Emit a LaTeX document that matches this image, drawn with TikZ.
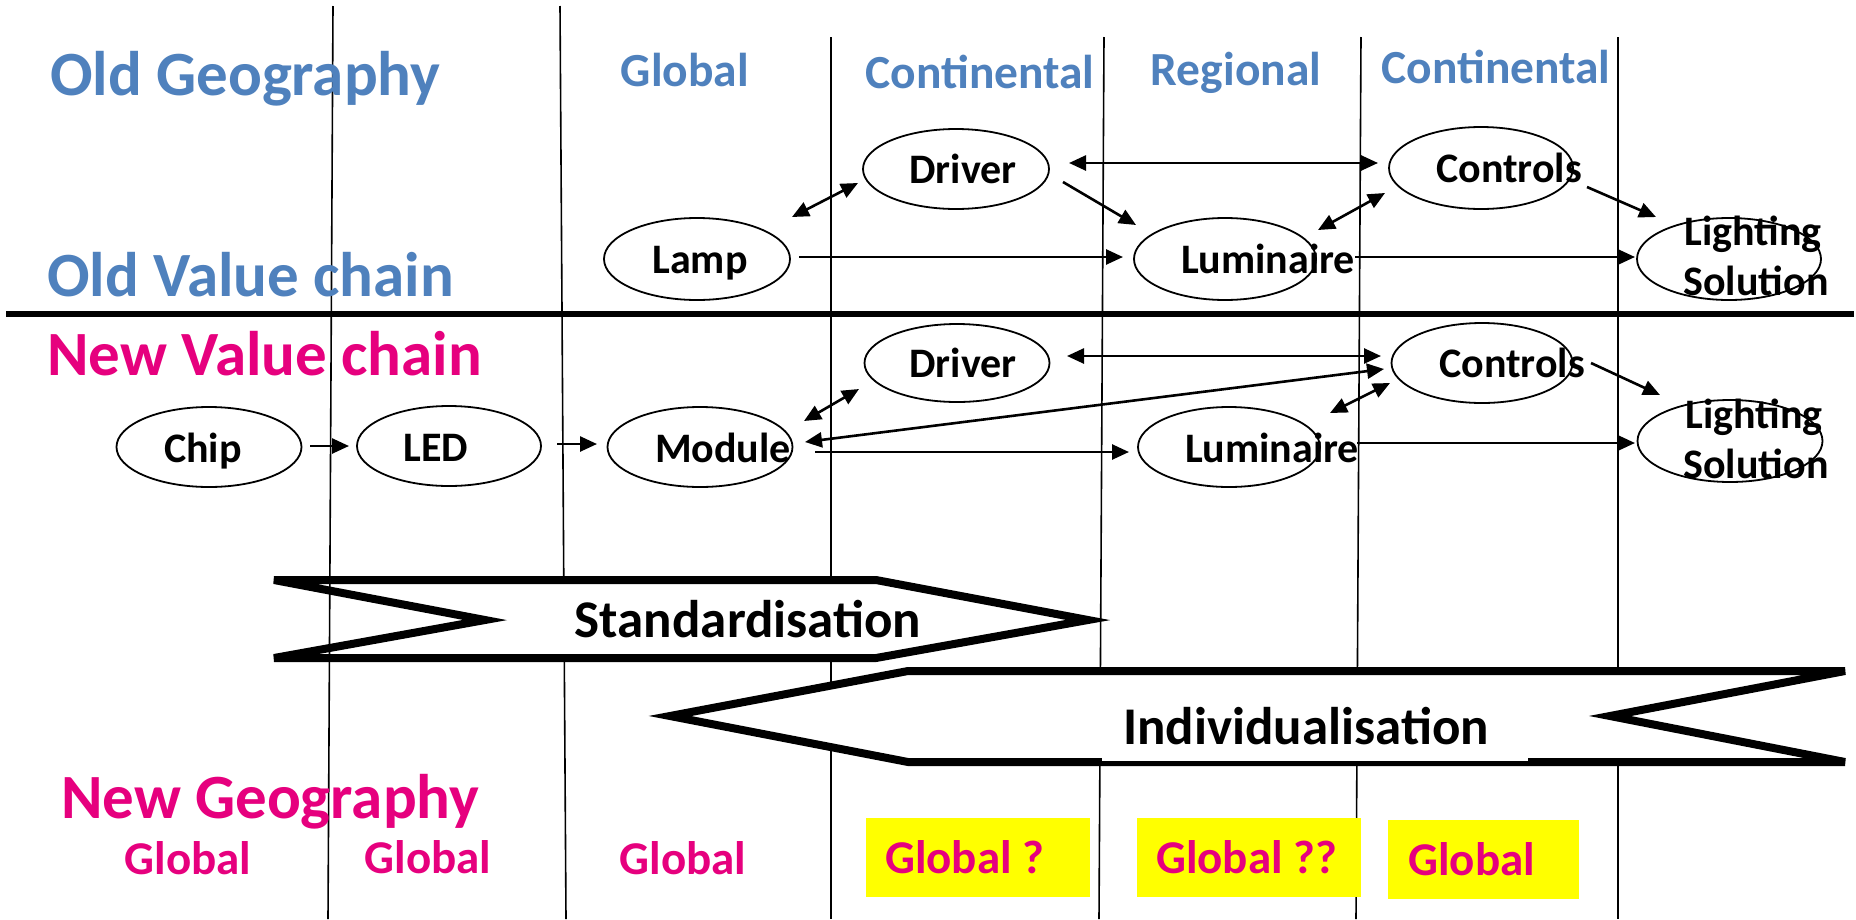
\documentclass[tikz,border=0pt]{standalone}
\usepackage{fontspec}
\setmainfont{Carlito}
\usetikzlibrary{arrows.meta,shapes.geometric,calc}
\definecolor{oblue}{RGB}{79,129,189}
\definecolor{nmag}{RGB}{230,0,126}
\definecolor{hyel}{RGB}{255,255,0}
\tikzset{
  ttl/.style={font=\fontsize{63}{63}\selectfont\bfseries, anchor=base west, inner sep=0},
  hdr/.style={font=\fontsize{47.5}{48}\selectfont\bfseries, text=oblue, anchor=base, inner sep=0},
  geo/.style={font=\fontsize{47}{48}\selectfont\bfseries, text=nmag, anchor=base, inner sep=0},
  lbl/.style={font=\fontsize{42}{42}\selectfont\bfseries, anchor=base, inner sep=0},
  chv/.style={font=\fontsize{53}{53}\selectfont\bfseries, anchor=base, inner sep=0},
  ell/.style={draw, ellipse, line width=1.8pt, inner sep=0, minimum width=185pt, minimum height=81pt},
  vline/.style={line width=1.6pt},
  chevron/.style={line width=8pt, line join=miter, fill=white},
  arr/.style={-{Triangle[length=17pt,width=15pt]}, line width=2.6pt},
  dbl/.style={{Triangle[length=17pt,width=15pt]}-{Triangle[length=17pt,width=15pt]}, line width=2.6pt},
}
\begin{document}
\begin{tikzpicture}[x=1pt,y=-1pt]
\useasboundingbox[fill=white] (0,0) rectangle (1856,919);

% vertical column lines
\draw[vline] (560,6) -- (566,919);
\draw[vline] (831,37) -- (831,919);
\draw[vline] (1104,37) -- (1099,919);
\draw[vline] (1361,37) -- (1356,919);
\draw[vline] (1618,37) -- (1618,919);

% Standardisation chevron
\draw[chevron] (274,580) -- (876,580) -- (1088,620) -- (876,658) -- (274,658) -- (485,620) -- cycle;
\draw[vline] (333,6) -- (328,919);

% Individualisation chevron
\fill[white] (908,671) rectangle (1845,762);
\draw[chevron] (908,671) -- (1845,671) -- (1610,716) -- (1845,762) -- (908,762) -- (670,716) -- cycle;
\fill[white] (1102,700) rectangle (1528,761);

\node[chv] (std) at (748,637) {Standardisation};
\node[chv] (ind) at (1306,744) {Individualisation};

% thick separator
\draw[line width=6pt] (6,314) -- (1854,314);

% titles
\node[ttl, text=oblue] (t1) at (50,95) {Old Geography};
\node[ttl, text=oblue] (t2) at (47,296) {Old Value chain};
\node[ttl, text=nmag] (t3) at (47,375) {New Value chain};
\node[ttl, text=nmag] (t4) at (61,818) {New Geography};

% old geography headers
\node[hdr] (h1) at (685,86) {Global};
\node[hdr] (h2) at (980,88) {Continental};
\node[hdr] (h3) at (1236,85) {Regional};
\node[hdr] (h4) at (1496,83) {Continental};

% old value chain
\node[ell, minimum width=186pt, minimum height=82pt] (lamp) at (697,259) {};
\node[ell, minimum width=186pt, minimum height=80pt] (drv1) at (956,169) {};
\node[ell, minimum width=182pt, minimum height=82pt] (lum1) at (1225,259) {};
\node[ell, minimum width=184pt, minimum height=82pt] (ctl1) at (1481,168) {};
\node[ell, minimum width=184pt, minimum height=82pt] (ls1) at (1729,259) {};
\node[lbl] (lampt) at (700,273) {Lamp};
\node[lbl] (drv1t) at (963,183) {Driver};
\node[lbl] (lum1t) at (1268,273) {Luminaire};
\node[lbl] (ctl1t) at (1509,182) {Controls};
\node[lbl] (ls1a) at (1753,245) {Lighting};
\node[lbl] (ls1b) at (1756,295) {Solution};

\draw[dbl] ($(lamp.center)+(95,-42)$) -- ($(drv1.center)+(-98,14)$);
\draw[dbl] ($(drv1.center)+(113,-6)$) -- ($(ctl1.center)+(-103,-5)$);
\draw[arr] ($(drv1.center)+(107,13)$) -- ($(lum1.center)+(-89,-34)$);
\draw[arr] ($(lamp.center)+(102,-2)$) -- ($(lum1.center)+(-102,-2)$);
\draw[dbl] ($(lum1.center)+(93,-29)$) -- ($(ctl1.center)+(-96,25)$);
\draw[arr] ($(ctl1.center)+(106,19)$) -- ($(ls1.center)+(-73,-42)$);
\draw[arr] ($(lum1.center)+(130,-2)$) -- ($(ls1.center)+(-94,-2)$);

% new value chain
\node[ell, minimum width=185pt, minimum height=80pt] (chip) at (209,447) {};
\node[ell, minimum width=184pt, minimum height=80pt] (led) at (449,446) {};
\node[ell, minimum width=185pt, minimum height=80pt] (mod) at (700,447) {};
\node[ell, minimum width=185pt, minimum height=78pt] (drv2) at (957,363) {};
\node[ell, minimum width=181pt, minimum height=80pt] (ctl2) at (1482,363) {};
\node[ell, minimum width=182pt, minimum height=80pt] (lum2) at (1229,447) {};
\node[ell, minimum width=185pt, minimum height=82pt] (ls2) at (1730,441) {};
\node[lbl] (chipt) at (203,462) {Chip};
\node[lbl] (ledt) at (436,461) {LED};
\node[lbl] (modt) at (723,462) {Module};
\node[lbl] (drv2t) at (963,377) {Driver};
\node[lbl] (ctl2t) at (1512,377) {Controls};
\node[lbl] (lum2t) at (1272,462) {Luminaire};
\node[lbl] (ls2a) at (1754,428) {Lighting};
\node[lbl] (ls2b) at (1756,478) {Solution};

\draw[arr] ($(chip.center)+(101,-1)$) -- ($(led.center)+(-100,0)$);
\draw[arr] ($(led.center)+(108,-2)$) -- ($(mod.center)+(-103,-3)$);
\draw[dbl] ($(mod.center)+(104,-26)$) -- ($(drv2.center)+(-98,26)$);
\draw[dbl] ($(mod.center)+(105,-5)$) -- ($(ctl2.center)+(-98,6)$);
\draw[arr] ($(mod.center)+(115,5)$) -- ($(lum2.center)+(-100,5)$);
\draw[dbl] ($(drv2.center)+(110,-7)$) -- ($(ctl2.center)+(-101,-7)$);
\draw[dbl] ($(lum2.center)+(101,-34)$) -- ($(ctl2.center)+(-92,20)$);
\draw[arr] ($(ctl2.center)+(109,0)$) -- ($(ls2.center)+(-70,-46)$);
\draw[arr] ($(lum2.center)+(128,-4)$) -- ($(ls2.center)+(-95,2)$);

% new geography
\node[geo] (g1) at (188,874) {Global};
\node[geo] (g2) at (428,873) {Global};
\node[geo] (g3) at (683,874) {Global};
\fill[hyel] (866,818) rectangle (1090,897);
\fill[hyel] (1137,818) rectangle (1361,897);
\fill[hyel] (1388,820) rectangle (1579,899);
\node[geo, anchor=base west] (g4) at (885,873) {Global ?};
\node[geo, anchor=base west] (g5) at (1156,873) {Global ??};
\node[geo, anchor=base west] (g6) at (1408,875) {Global};
\end{tikzpicture}
\end{document}
